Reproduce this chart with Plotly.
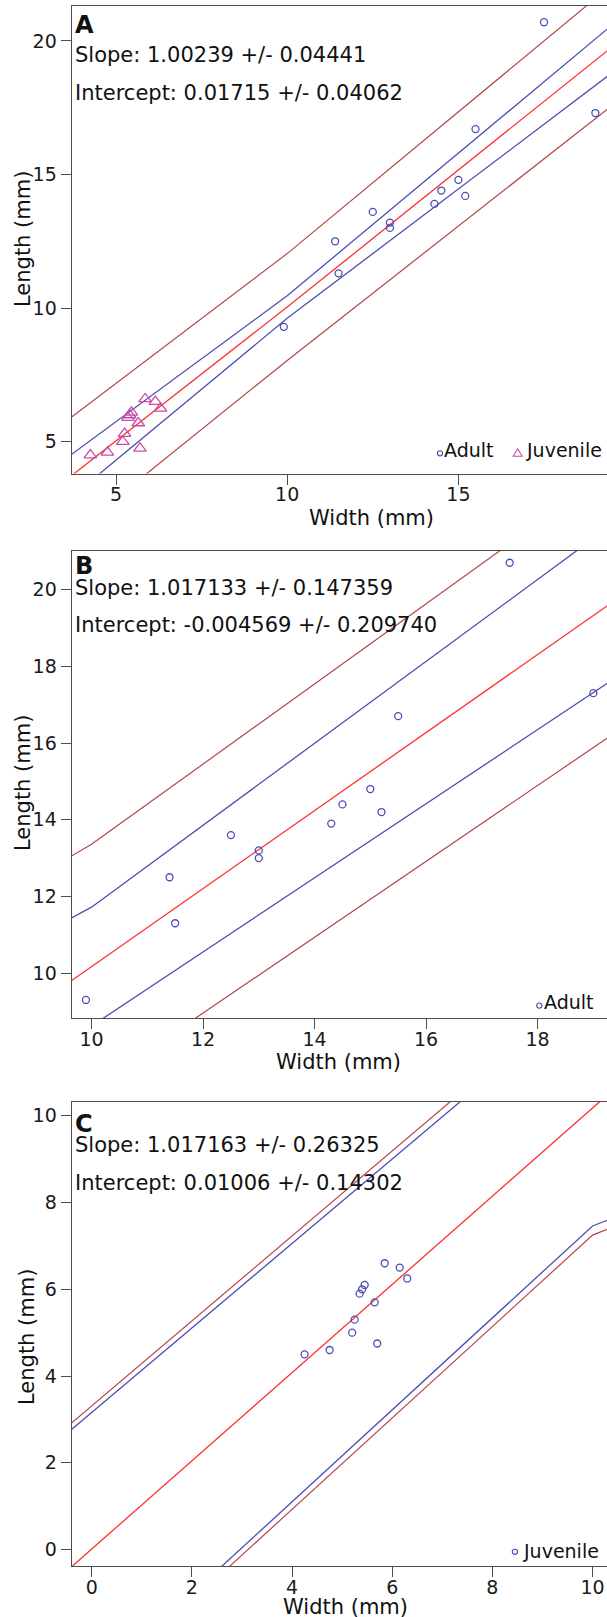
import plotly.graph_objects as go

W, H = 607, 1617

# ---------------- data ----------------
adult_width = [9.9, 11.4, 11.5, 12.5, 13.0, 13.0, 14.3, 14.5, 15.0, 15.2, 15.5, 17.5, 19.0]
adult_length = [9.3, 12.5, 11.3, 13.6, 13.2, 13.0, 13.9, 14.4, 14.8, 14.2, 16.7, 20.7, 17.3]
juvenile_width = [4.25, 4.75, 5.2, 5.25, 5.35, 5.4, 5.45, 5.65, 5.7, 5.85, 6.15, 6.3]
juvenile_length = [4.5, 4.6, 5.0, 5.3, 5.9, 6.0, 6.1, 5.7, 4.75, 6.6, 6.5, 6.25]

# fit line and band vertices (panel A: all, B: adults, C: juveniles)
a_band_x = [0, 10, 20]
a_fit = [0.02, 10.04, 20.30]
a_conf_hi = [1.04, 10.46, 21.14]
a_conf_lo = [-1.00, 9.62, 19.30]
a_pred_hi = [2.32, 12.04, 22.65]
a_pred_lo = [-2.28, 8.04, 18.10]

b_band_x = [0, 10, 20]
b_fit = [0.00, 10.17, 20.34]
b_conf_hi = [3.90, 11.72, 22.40]
b_conf_lo = [-3.91, 8.62, 18.28]
b_pred_hi = [4.76, 13.36, 23.81]
b_pred_lo = [-4.77, 6.98, 16.87]

c_band_x = [-1, 0, 10, 20]
c_fit = [-1.01, 0.01, 10.18, 20.35]
c_conf_hi = [2.19, 3.16, 12.90, 28.80]
c_conf_lo = [-4.20, -3.14, 7.46, 11.90]
c_pred_hi = [2.33, 3.31, 13.11, 28.90]
c_pred_lo = [-4.34, -3.29, 7.25, 11.80]

panel_letters = ["A", "B", "C"]
slope_texts = ["Slope: 1.00239 +/- 0.04441",
               "Slope: 1.017133 +/- 0.147359",
               "Slope: 1.017163 +/- 0.26325"]
intercept_texts = ["Intercept: 0.01715 +/- 0.04062",
                   "Intercept: -0.004569 +/- 0.209740",
                   "Intercept: 0.01006 +/- 0.14302"]

a_xticks = [5, 10, 15]
a_yticks = [5, 10, 15, 20]
b_xticks = [10, 12, 14, 16, 18]
b_yticks = [10, 12, 14, 16, 18, 20]
c_xticks = [0, 2, 4, 6, 8, 10]
c_yticks = [0, 2, 4, 6, 8, 10]

# ---------------- styling ----------------
FONT = "DejaVu Sans"
BLUE = "#4a4fb2"
PINK = "#c64ea8"
RED = "#ff3030"
DARKRED = "#b44646"
AXC = "#4d4d4d"

def fx(p):
    return p / W

def fy(p):
    return 1 - p / H

LEFT = 71.7
panels = [
    dict(x="x", y="y", xr=[3.706, 19.34], yr=[3.81, 21.31], top=5.9, bottom=473.5,
         xt=a_xticks, yt=a_yticks),
    dict(x="x2", y="y2", xr=[9.645, 19.245], yr=[8.83, 21.02], top=550.5, bottom=1018,
         xt=b_xticks, yt=b_yticks),
    dict(x="x3", y="y3", xr=[-0.399, 10.288], yr=[-0.38, 10.33], top=1101.5, bottom=1566,
         xt=c_xticks, yt=c_yticks),
]

fig = go.Figure()

band_sets = [
    (a_band_x, a_fit, a_conf_hi, a_conf_lo, a_pred_hi, a_pred_lo),
    (b_band_x, b_fit, b_conf_hi, b_conf_lo, b_pred_hi, b_pred_lo),
    (c_band_x, c_fit, c_conf_hi, c_conf_lo, c_pred_hi, c_pred_lo),
]

for p, (bx, fit, chi, clo, phi, plo) in zip(panels, band_sets):
    for ys, col, w in [(phi, DARKRED, 1.2), (plo, DARKRED, 1.2),
                       (chi, BLUE, 1.3), (clo, BLUE, 1.3), (fit, RED, 1.3)]:
        fig.add_trace(go.Scatter(x=bx, y=ys, mode="lines", xaxis=p["x"], yaxis=p["y"],
                                 line=dict(color=col, width=w), showlegend=False,
                                 hoverinfo="skip"))

circle_marker = dict(symbol="circle-open", size=7, color=BLUE, line=dict(width=1.3, color=BLUE))
tri_marker = dict(symbol="triangle-up-open", size=11, color=PINK, line=dict(width=1.3, color=PINK))

# Panel A
fig.add_trace(go.Scatter(x=adult_width, y=adult_length, mode="markers", xaxis="x", yaxis="y",
                         marker=circle_marker, showlegend=False, name="Adult"))
fig.add_trace(go.Scatter(x=juvenile_width, y=juvenile_length, mode="markers", xaxis="x", yaxis="y",
                         marker=tri_marker, showlegend=False, name="Juvenile"))
# Panel B
fig.add_trace(go.Scatter(x=adult_width, y=adult_length, mode="markers", xaxis="x2", yaxis="y2",
                         marker=circle_marker, showlegend=False, name="Adult"))
# Panel C
fig.add_trace(go.Scatter(x=juvenile_width, y=juvenile_length, mode="markers", xaxis="x3", yaxis="y3",
                         marker=circle_marker, showlegend=False, name="Juvenile"))

axis_common = dict(showline=True, linecolor=AXC, linewidth=1.3, ticks="outside", ticklen=10,
                   tickwidth=1.2, tickcolor=AXC, showgrid=False, zeroline=False,
                   tickfont=dict(family=FONT, size=19, color="#1a1a1a"), fixedrange=True)

layout = dict(width=W, height=H, margin=dict(l=0, r=0, t=0, b=0),
              paper_bgcolor="white", plot_bgcolor="white", showlegend=False,
              font=dict(family=FONT, color="#1a1a1a"))

for i, p in enumerate(panels):
    sfx = "" if i == 0 else str(i + 1)
    layout["xaxis" + sfx] = dict(axis_common, domain=[fx(LEFT), 1.0], range=p["xr"],
                                 tickvals=p["xt"], anchor="y" + sfx, mirror=True,
                                 ticklabelstandoff=-6)
    layout["yaxis" + sfx] = dict(axis_common, domain=[fy(p["bottom"]), fy(p["top"])],
                                 range=p["yr"], tickvals=p["yt"], anchor="x" + sfx, mirror=False)

fig.update_layout(**layout)

ann = []
def text(t, x, y, size=21, xanchor="left", angle=0):
    ann.append(dict(text=t, x=fx(x), y=fy(y), xref="paper", yref="paper", showarrow=False,
                    xanchor=xanchor, yanchor="middle", textangle=angle,
                    font=dict(family=FONT, size=size, color="#111111")))

letter_y = [25, 565.8, 1124.2]
slope_y = [54.7, 588, 1145]
inter_y = [92.5, 625, 1182.5]
for i in range(3):
    text("<b>%s</b>" % panel_letters[i], 72.5, letter_y[i], size=24)
    text(slope_texts[i], 72.5, slope_y[i])
    text(intercept_texts[i], 72.5, inter_y[i])

text("Width (mm)", 371, 517.5, xanchor="center")
text("Width (mm)", 338, 1062, xanchor="center")
text("Width (mm)", 345, 1607, xanchor="center")
text("Length (mm)", 23.5, 239.5, xanchor="center", angle=-90)
text("Length (mm)", 23, 783, xanchor="center", angle=-90)
text("Length (mm)", 27, 1337, xanchor="center", angle=-90)

# legends (right-anchored at the measured right ends)
text("Adult", 496, 450, size=19, xanchor="right")
text("Juvenile", 604, 450, size=19, xanchor="right")
text("Adult", 596, 1001.5, size=19, xanchor="right")
text("Juvenile", 601, 1551, size=19, xanchor="right")

shapes = []
def leg_circle(x, y, col):
    shapes.append(dict(type="circle", xref="paper", yref="paper", xsizemode="pixel", ysizemode="pixel",
                       xanchor=fx(x), yanchor=fy(y), x0=-2.6, x1=2.6, y0=-2.6, y1=2.6,
                       line=dict(color=col, width=1.1)))
def leg_tri(x, y, col):
    shapes.append(dict(type="path", xref="paper", yref="paper", xsizemode="pixel", ysizemode="pixel",
                       xanchor=fx(x), yanchor=fy(y), path="M-4.5,-3.3 L4.5,-3.3 L0,4.2 Z",
                       line=dict(color=col, width=1.1)))

leg_circle(440, 453.3, BLUE)
leg_tri(517.7, 453, PINK)
leg_circle(539.3, 1005.6, BLUE)
leg_circle(514.9, 1551.8, BLUE)

fig.update_layout(annotations=ann, shapes=shapes)
fig.write_html("out.html", config={"displayModeBar": False},
               post_script="document.body.style.margin='0';document.body.style.overflow='hidden';")
